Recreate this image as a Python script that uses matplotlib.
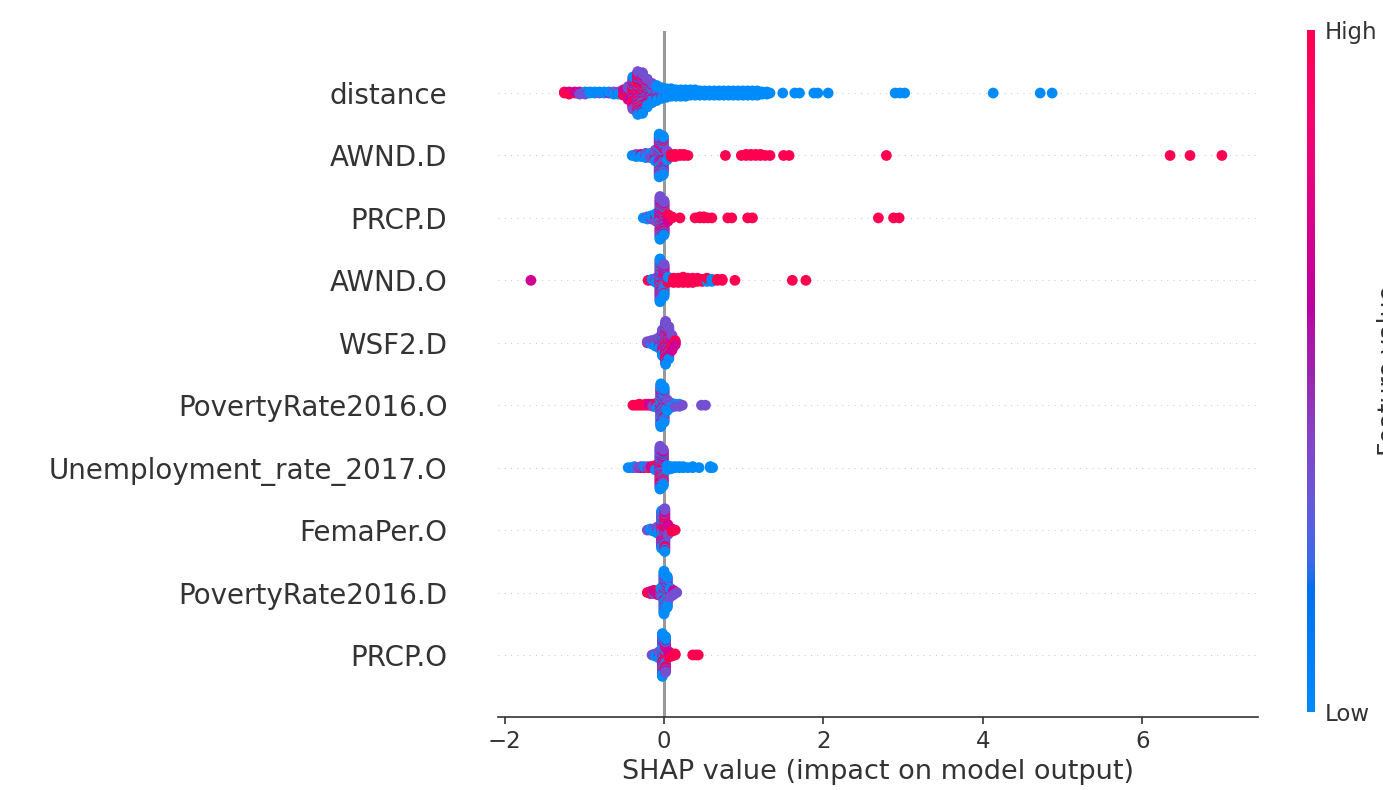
import numpy as np
import matplotlib
matplotlib.use("Agg")
import matplotlib.pyplot as plt
from matplotlib.colors import LinearSegmentedColormap, Normalize
from matplotlib.cm import ScalarMappable

# ---------------- data ----------------
# feature names, top to bottom
features = ["distance", "AWND.D", "PRCP.D", "AWND.O", "WSF2.D",
            "PovertyRate2016.O", "Unemployment_rate_2017.O", "FemaPer.O",
            "PovertyRate2016.D", "PRCP.O"]

# feature values (colour) of the four point groups: low, mid-low, mid-high, high
feature_levels = [0.0, 0.35, 0.68, 1.0]

# each stack: (SHAP value, n_low, n_midlow, n_midhigh, n_high)
distance_stacks = [
    (-1.25, 0, 0, 0, 2), (-1.19, 0, 0, 1, 2), (-1.12, 0, 0, 1, 1), (-1.06, 0, 2, 1, 0),
    (-0.99, 1, 2, 0, 0), (-0.93, 2, 0, 0, 0), (-0.87, 2, 0, 0, 0), (-0.81, 1, 1, 0, 0),
    (-0.75, 2, 0, 0, 0), (-0.69, 1, 0, 1, 0), (-0.63, 2, 1, 0, 0), (-0.57, 1, 1, 1, 0),
    (-0.51, 0, 1, 2, 3), (-0.45, 1, 2, 4, 6), (-0.39, 2, 5, 10, 14), (-0.33, 3, 7, 14, 17),
    (-0.27, 5, 8, 12, 14), (-0.21, 6, 6, 8, 7), (-0.15, 7, 5, 4, 3), (-0.09, 7, 4, 3, 1),
    (-0.03, 7, 2, 2, 0), (0.03, 7, 2, 0, 0), (0.09, 7, 1, 0, 0), (0.15, 7, 0, 0, 0),
    (0.21, 6, 1, 0, 0), (0.27, 7, 0, 0, 0), (0.33, 6, 0, 0, 0), (0.39, 6, 0, 0, 0),
    (0.45, 5, 0, 0, 0), (0.51, 5, 0, 0, 0), (0.57, 5, 0, 0, 0), (0.63, 5, 0, 0, 0),
    (0.69, 5, 0, 0, 0), (0.75, 5, 0, 0, 0), (0.81, 5, 0, 0, 0), (0.87, 5, 0, 0, 0),
    (0.93, 5, 0, 0, 0), (0.99, 5, 0, 0, 0), (1.05, 5, 0, 0, 0), (1.11, 5, 0, 0, 0),
    (1.17, 5, 0, 0, 0), (1.23, 3, 0, 0, 0), (1.29, 3, 0, 0, 0), (1.33, 1, 0, 0, 0),
    (1.49, 1, 0, 0, 0), (1.64, 1, 0, 0, 0), (1.70, 1, 0, 0, 0), (1.88, 1, 0, 0, 0),
    (1.93, 1, 0, 0, 0), (2.06, 1, 0, 0, 0), (2.90, 1, 0, 0, 0), (2.96, 1, 0, 0, 0),
    (3.02, 1, 0, 0, 0), (4.13, 1, 0, 0, 0), (4.72, 1, 0, 0, 0), (4.87, 1, 0, 0, 0),
]
awnd_d_stacks = [
    (-0.40, 1, 0, 0, 0), (-0.35, 2, 1, 0, 0), (-0.29, 2, 0, 1, 0), (-0.23, 2, 1, 1, 1),
    (-0.17, 1, 2, 1, 1), (-0.11, 3, 3, 3, 2), (-0.06, 14, 12, 10, 5), (-0.01, 11, 10, 10, 6),
    (0.04, 2, 2, 3, 2), (0.09, 0, 0, 0, 3), (0.14, 0, 0, 0, 3), (0.20, 0, 0, 0, 2),
    (0.25, 0, 0, 0, 2), (0.30, 0, 0, 0, 1), (0.77, 0, 0, 0, 1), (0.97, 0, 0, 0, 1),
    (1.03, 0, 0, 0, 2), (1.09, 0, 0, 0, 2), (1.15, 0, 0, 0, 2), (1.21, 0, 0, 0, 2),
    (1.27, 0, 0, 0, 1), (1.33, 0, 0, 0, 1), (1.50, 0, 0, 0, 1), (1.57, 0, 0, 0, 1),
    (2.79, 0, 0, 0, 1), (6.35, 0, 0, 0, 1), (6.60, 0, 0, 0, 1), (7.00, 0, 0, 0, 1),
]
prcp_d_stacks = [
    (-0.26, 1, 0, 0, 0), (-0.21, 1, 1, 0, 1), (-0.16, 1, 1, 1, 1), (-0.10, 2, 2, 2, 2),
    (-0.05, 8, 13, 13, 7), (0.00, 5, 9, 11, 8), (0.05, 0, 1, 3, 3), (0.10, 0, 0, 0, 2),
    (0.20, 0, 0, 0, 1), (0.39, 0, 0, 0, 1), (0.45, 0, 0, 0, 2), (0.50, 0, 0, 0, 2),
    (0.55, 0, 0, 0, 1), (0.60, 0, 0, 0, 1), (0.80, 0, 0, 0, 1), (0.85, 0, 0, 0, 1),
    (1.05, 0, 0, 0, 1), (1.11, 0, 0, 0, 1), (2.69, 0, 0, 0, 1), (2.88, 0, 0, 0, 1),
    (2.95, 0, 0, 0, 1),
]
awnd_o_stacks = [
    (-1.67, 0, 0, 1, 0), (-0.20, 0, 0, 0, 1), (-0.15, 1, 0, 1, 0), (-0.10, 2, 1, 1, 1),
    (-0.05, 14, 10, 9, 8), (0.00, 9, 8, 8, 6), (0.05, 2, 0, 1, 3), (0.12, 0, 0, 0, 5),
    (0.18, 0, 0, 0, 5), (0.24, 0, 0, 0, 6), (0.30, 0, 0, 0, 5), (0.36, 0, 0, 0, 5),
    (0.42, 0, 0, 0, 4), (0.48, 0, 0, 0, 3), (0.54, 1, 0, 0, 3), (0.60, 2, 0, 0, 1),
    (0.67, 0, 0, 0, 2), (0.73, 0, 0, 0, 2), (0.89, 0, 0, 0, 1), (1.61, 0, 0, 0, 1),
    (1.78, 0, 0, 0, 1),
]
wsf2_d_stacks = [
    (-0.21, 0, 1, 1, 0), (-0.16, 1, 2, 1, 0), (-0.11, 2, 3, 1, 1), (-0.06, 3, 4, 3, 1),
    (-0.02, 6, 8, 7, 4), (0.02, 6, 10, 14, 11), (0.06, 3, 7, 12, 9), (0.10, 0, 2, 6, 7),
    (0.14, 0, 0, 2, 3),
]
poverty_o_stacks = [
    (-0.39, 0, 0, 0, 1), (-0.35, 0, 0, 0, 1), (-0.31, 0, 0, 0, 2), (-0.27, 0, 0, 0, 1),
    (-0.23, 0, 0, 0, 2), (-0.19, 0, 0, 1, 1), (-0.14, 0, 1, 1, 1), (-0.09, 1, 1, 1, 2),
    (-0.04, 20, 8, 7, 6), (0.00, 16, 7, 6, 5), (0.04, 5, 3, 2, 1), (0.09, 2, 2, 1, 0),
    (0.14, 1, 2, 0, 0), (0.19, 1, 2, 0, 0), (0.23, 0, 1, 0, 0), (0.47, 0, 1, 0, 0),
    (0.52, 0, 1, 0, 0),
]
unemployment_o_stacks = [
    (-0.45, 1, 0, 0, 0), (-0.41, 1, 0, 0, 0), (-0.37, 1, 1, 0, 0), (-0.33, 0, 1, 0, 0),
    (-0.29, 0, 1, 1, 0), (-0.25, 1, 0, 1, 0), (-0.20, 0, 1, 0, 1), (-0.16, 0, 0, 1, 1),
    (-0.11, 1, 1, 1, 2), (-0.05, 8, 12, 13, 8), (-0.01, 7, 10, 11, 7), (0.04, 4, 1, 0, 0),
    (0.09, 3, 0, 0, 0), (0.14, 2, 0, 0, 0), (0.19, 2, 0, 0, 0), (0.24, 2, 0, 0, 0),
    (0.30, 1, 0, 0, 0), (0.36, 2, 0, 0, 0), (0.44, 1, 0, 0, 0), (0.58, 2, 0, 0, 0),
    (0.61, 1, 0, 0, 0),
]
femaper_o_stacks = [
    (-0.21, 0, 1, 0, 0), (-0.17, 1, 1, 0, 0), (-0.13, 2, 1, 0, 0), (-0.08, 3, 2, 1, 1),
    (-0.03, 12, 12, 7, 5), (0.01, 5, 8, 14, 14), (0.05, 0, 2, 4, 4), (0.10, 0, 0, 1, 2),
    (0.14, 0, 0, 0, 1),
]
poverty_d_stacks = [
    (-0.21, 0, 0, 0, 1), (-0.17, 0, 0, 1, 2), (-0.13, 0, 1, 2, 1), (-0.08, 0, 1, 2, 2),
    (-0.04, 2, 2, 2, 2), (0.00, 24, 8, 5, 4), (0.04, 14, 8, 5, 3), (0.08, 2, 4, 3, 0),
    (0.12, 0, 3, 2, 0), (0.16, 0, 1, 0, 0),
]
prcp_o_stacks = [
    (-0.15, 0, 1, 0, 0), (-0.11, 1, 1, 1, 0), (-0.06, 2, 2, 2, 1), (-0.02, 18, 8, 8, 7),
    (0.02, 8, 7, 10, 9), (0.06, 0, 1, 2, 3), (0.10, 0, 0, 1, 2), (0.14, 0, 0, 0, 2),
    (0.36, 0, 0, 0, 1), (0.40, 0, 0, 0, 1), (0.43, 0, 0, 0, 1),
]

row_stacks = [distance_stacks, awnd_d_stacks, prcp_d_stacks, awnd_o_stacks,
              wsf2_d_stacks, poverty_o_stacks, unemployment_o_stacks,
              femaper_o_stacks, poverty_d_stacks, prcp_o_stacks]

x_ticks = [-2, 0, 2, 4, 6]
x_label = "SHAP value (impact on model output)"
cbar_label = "Feature value"
cbar_ticklabels = ["Low", "High"]


# ---------------- colormap (shap red_blue, LCH interpolation) ----------------
def lch_to_rgb(l, c, h):
    a = c * np.cos(h)
    b = c * np.sin(h)
    fy = (l + 16.0) / 116.0
    fx = fy + a / 500.0
    fz = fy - b / 200.0

    def finv(t):
        return t ** 3 if t > 6.0 / 29.0 else 3 * (6.0 / 29.0) ** 2 * (t - 4.0 / 29.0)
    X = 0.95047 * finv(fx)
    Y = 1.00000 * finv(fy)
    Z = 1.08883 * finv(fz)
    r = 3.2406 * X - 1.5372 * Y - 0.4986 * Z
    g = -0.9689 * X + 1.8758 * Y + 0.0415 * Z
    bl = 0.0557 * X - 0.2040 * Y + 1.0570 * Z
    out = []
    for v in (r, g, bl):
        v = 1.055 * v ** (1 / 2.4) - 0.055 if v > 0.0031308 else 12.92 * v
        out.append(min(max(v, 0.0), 1.0))
    return out


blue_lch = [54.0, 70.0, 4.6588]
l_mid = 40.0
red_lch = [54.0, 90.0, 0.35470565 + 2 * np.pi]
nsteps = 100
l_vals = list(np.linspace(blue_lch[0], l_mid, nsteps // 2)) + \
    list(np.linspace(l_mid, red_lch[0], nsteps // 2))
c_vals = np.linspace(blue_lch[1], red_lch[1], nsteps)
h_vals = np.linspace(blue_lch[2], red_lch[2], nsteps)
cmap_colors = [lch_to_rgb(l, c, h) for l, c, h in zip(l_vals, c_vals, h_vals)]
red_blue = LinearSegmentedColormap.from_list("red_blue", cmap_colors)


# ---------------- layout of the swarm ----------------
def stack_points(stacks):
    xs, ys, cs = [], [], []
    for x, *counts in stacks:
        items = []
        # colours interleaved through the stack, high values slightly toward centre
        for rank, (n, lev) in enumerate(zip(counts[::-1], feature_levels[::-1])):
            for k in range(n):
                items.append((0.1 * rank + (k + 0.5) / n, lev))
        items.sort(key=lambda t: t[0])
        for layer, (_, lev) in enumerate(items):
            off = np.ceil(layer / 2) * ((layer % 2) * 2 - 1)
            xs.append(x)
            ys.append(off)
            cs.append(lev)
    ys = np.array(ys, dtype=float)
    ys *= 0.9 * (0.4 / np.max(ys + 1))
    return np.array(xs), ys, np.array(cs)


# ---------------- figure ----------------
W, H = 1383, 790
fig = plt.figure(figsize=(W / 100, H / 100), dpi=100)
ax = fig.add_axes([498 / W, (H - 717.4) / H, 760 / W, 686.8 / H])

axis_color = "#333333"
n = len(features)
ax.axvline(0, color="#999999", lw=2.2, zorder=-1)
for i in range(n):
    pos = n - 1 - i
    ax.axhline(pos, color="#cccccc", lw=0.75, dashes=(1, 5), zorder=-1)
    xs, ys, cs = stack_points(row_stacks[i])
    ax.scatter(xs, pos + ys, c=cs, cmap=red_blue, vmin=0, vmax=1,
               s=60, linewidths=0, alpha=1, zorder=3)

ax.set_xlim(-2.083, 7.453)
ax.set_ylim(-1, n)
ax.set_yticks(range(n))
ax.set_yticklabels(features[::-1], fontsize=20)
ax.set_xticks(x_ticks)
ax.xaxis.set_ticks_position("bottom")
ax.yaxis.set_ticks_position("none")
ax.tick_params("y", length=0, pad=36.5, colors=axis_color, labelcolor=axis_color)
ax.tick_params("x", labelsize=16.5, length=5.25, width=1.2,
               colors=axis_color, labelcolor=axis_color)
for sp in ("top", "right", "left"):
    ax.spines[sp].set_visible(False)
ax.spines["bottom"].set_color(axis_color)
ax.spines["bottom"].set_linewidth(1.2)
ax.set_xlabel(x_label, fontsize=19.5, color=axis_color, labelpad=5)

# colorbar
cax = fig.add_axes([1307 / W, (H - 712) / H, 8 / W, 682 / H])
sm = ScalarMappable(norm=Normalize(0, 1), cmap=red_blue)
cb = fig.colorbar(sm, cax=cax, ticks=[0, 1])
cb.set_ticklabels(cbar_ticklabels)
cb.set_label(cbar_label, size=18, labelpad=0, color=axis_color)
cb.ax.tick_params(labelsize=16.5, length=0, pad=7, labelcolor=axis_color)
cb.outline.set_visible(False)

fig.savefig("out.png", dpi=100)
